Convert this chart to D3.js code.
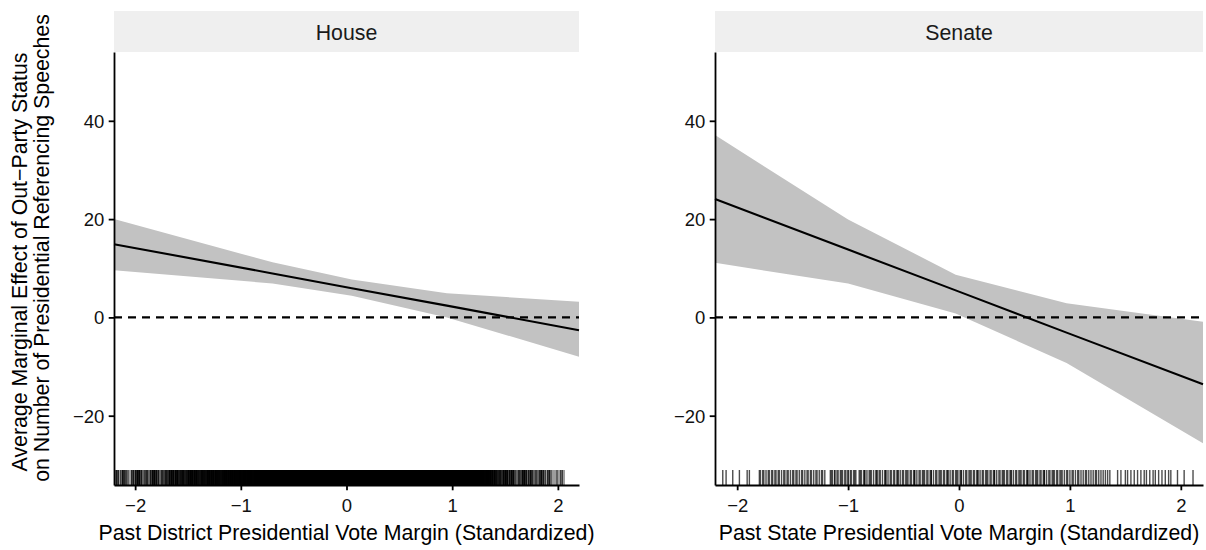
<!DOCTYPE html>
<html>
<head>
<meta charset="utf-8">
<script src="https://cdn.jsdelivr.net/npm/d3@7"></script>
<style>
  html, body { margin: 0; padding: 0; background: #fff; }
  svg { display: block; }
  text { font-family: "Liberation Sans", Arial, Helvetica, sans-serif; }
</style>
</head>
<body>
<svg id="chart" width="1206" height="550"></svg>
<script>
// ---------------- DATA ----------------
const panelNames = ["House", "Senate"];
const xTitles = [
  "Past District Presidential Vote Margin (Standardized)",
  "Past State Presidential Vote Margin (Standardized)"
];
const yTitleLines = [
  "Average Marginal Effect of Out\u2212Party Status",
  "on Number of Presidential Referencing Speeches"
];
const xTicks = [-2, -1, 0, 1, 2];
const yTicks = [-20, 0, 20, 40];
const xDomain = [-2.2, 2.2];
const yDomain = [-34.1, 54.0];

// House: marginal effect estimates
const houseX     = [-2.2, -0.7, 0.05, 0.95, 2.2];
const houseFit   = [14.9, 8.95, 5.95, 2.4, -2.6];
const houseUpper = [20.0, 11.2, 7.7, 4.9, 3.2];
const houseLower = [9.6, 6.9, 4.4, 0.0, -8.0];

// Senate: marginal effect estimates
const senateX     = [-2.2, -1.0, -0.03, 0.97, 2.2];
const senateFit   = [24.1, 13.8, 5.5, -3.1, -13.6];
const senateUpper = [37.1, 19.9, 8.7, 2.9, -0.9];
const senateLower = [11.1, 6.9, 0.8, -9.3, -25.6];

// House rug: observation counts in 0.02-wide bins starting at -2.2
const houseRugStart = -2.2;
const houseRugBin = 0.02;
const houseRugCounts = [
  2,3,1,2,4,3,2,1,3,2,4,5,3,2,3,4,2,3,5,4,3,2,4,3,5,4,
  5,6,4,7,5,6,8,5,6,7,9,6,8,7,6,9,8,7,10,8,9,7,10,9,8,10,11,9,10,12,10,11,
  12,14,13,15,12,16,14,13,17,15,14,18,16,15,19,17,16,18,20,17,19,21,18,20,
  22,19,21,23,20,22,24,21,23,25,22,24,26,23,25,27,24,26,28,25,27,26,28,27,
  29,26,28,30,27,29,28,30,27,29,31,28,30,29,27,30,28,29,27,28,26,29,27,28,
  26,27,25,28,26,27,24,26,25,27,23,25,24,26,22,24,23,25,21,23,22,24,20,22,
  21,23,19,21,20,22,18,20,19,21,17,19,18,20,16,18,17,15,16,14,15,13,14,12,
  8,6,7,5,6,4,5,6,3,4,5,3,2,4,3,5,4,2,3,4,2,3,2,4,3,2,1,3,2,1,1,2,1,2,1
];

// Senate rug: individual observations
const senateRug = [
  -2.13,-2.10,-2.04,-1.98,-1.91,-1.89,
  -1.80,-1.79,-1.77,-1.76,-1.74,-1.72,-1.71,
  -1.69,-1.68,-1.66,-1.65,-1.63,-1.62,-1.60,-1.58,-1.57,-1.55,-1.54,-1.52,-1.50,-1.49,
  -1.47,-1.46,-1.44,-1.42,-1.41,-1.39,-1.37,-1.36,-1.34,-1.33,-1.31,-1.29,-1.28,-1.26,
  -1.24,-1.23,-1.21,
  -1.16,-1.15,-1.14,-1.12,-1.12,-1.10,-1.09,-1.07,-1.06,-1.05,-1.03,-1.02,-1.00,-1.00,
  -0.98,-0.97,-0.95,-0.94,-0.93,
  -0.90,-0.89,-0.88,-0.86,-0.85,-0.85,-0.83,-0.81,-0.80,-0.79,-0.77,-0.75,-0.74,-0.74,
  -0.72,-0.71,-0.69,-0.67,-0.66,-0.66,-0.64,-0.62,-0.61,-0.59,-0.58,-0.56,-0.55,-0.55,
  -0.53,-0.51,-0.50,-0.48,-0.47,-0.46,-0.44,-0.43,-0.41,-0.40,-0.40,-0.38,-0.36,-0.35,
  -0.33,-0.32,-0.31,-0.29,-0.28,-0.26,-0.25,-0.25,-0.23,-0.21,-0.20,-0.18,-0.17,-0.16,
  -0.14,-0.13,-0.11,-0.10,-0.10,-0.08,-0.06,-0.05,-0.03,-0.02,-0.01,0.01,0.02,0.02,
  0.04,0.06,0.07,0.09,0.10,0.11,0.13,0.14,0.16,0.17,0.17,0.19,0.21,0.22,0.24,0.25,
  0.26,0.28,0.29,0.31,0.32,0.32,0.34,0.36,0.37,0.39,0.40,0.41,0.43,0.44,0.46,0.47,
  0.47,0.49,0.51,0.52,0.54,0.55,0.56,0.58,0.59,0.61,0.62,0.62,0.64,0.66,0.67,0.69,
  0.70,0.71,0.73,0.74,0.76,0.77,0.77,0.79,0.81,0.82,0.84,0.85,0.86,0.88,0.89,0.91,
  0.92,0.93,
  0.95,0.97,0.98,1.00,1.02,1.03,1.05,1.07,1.08,1.10,1.12,1.14,1.15,1.17,1.19,1.21,
  1.23,1.24,1.26,1.28,1.30,1.32,1.34,1.36,
  1.43,1.46,1.50,1.52,1.55,1.58,1.61,1.64,1.67,1.69,1.72,1.75,1.77,1.80,1.83,1.86,
  1.89,1.91,1.97,2.03,2.11
];

// ---------------- LAYOUT ----------------
const W = 1206, H = 550;
const panelTop = 52, panelBottom = 485, stripTop = 11;
const panelX = [[114, 579], [715, 1203]];
const tickLen = 5.3, tickPad = 4.3;
const rugLen = 15;
const tickFont = 18.5, titleFont = 21.3, stripFont = 21.3;
const fmt = d3.format("d");

const svg = d3.select("#chart");
svg.append("rect").attr("width", W).attr("height", H).attr("fill", "#fff");

const y = d3.scaleLinear().domain(yDomain).range([panelBottom, panelTop]);

const panelData = [
  { x: houseX, fit: houseFit, up: houseUpper, lo: houseLower },
  { x: senateX, fit: senateFit, up: senateUpper, lo: senateLower }
];

panelNames.forEach((name, p) => {
  const [L, R] = panelX[p];
  const x = d3.scaleLinear().domain(xDomain).range([L, R]);
  const g = svg.append("g");
  const pd = panelData[p];
  const rows = pd.x.map((v, i) => ({ x: v, fit: pd.fit[i], up: pd.up[i], lo: pd.lo[i] }));

  // strip
  g.append("rect").attr("x", L).attr("y", stripTop)
    .attr("width", R - L).attr("height", panelTop - stripTop)
    .attr("fill", "#efefef");
  g.append("text").attr("x", (L + R) / 2).attr("y", 40)
    .attr("text-anchor", "middle").attr("font-size", stripFont)
    .attr("fill", "#1a1a1a").text(name);

  // confidence band
  g.append("path").datum(rows)
    .attr("d", d3.area().x(d => x(d.x)).y0(d => y(d.lo)).y1(d => y(d.up)))
    .attr("fill", "#c2c2c2");

  // zero reference line
  g.append("line").attr("x1", L).attr("x2", R)
    .attr("y1", y(0)).attr("y2", y(0))
    .attr("stroke", "#000").attr("stroke-width", 2.1)
    .attr("stroke-dasharray", "8,6");

  // fitted line
  g.append("path").datum(rows)
    .attr("d", d3.line().x(d => x(d.x)).y(d => y(d.fit)))
    .attr("fill", "none").attr("stroke", "#000").attr("stroke-width", 2.1);

  // rug
  const rugG = g.append("g");
  if (p === 0) {
    const bw = x(houseRugBin) - x(0);
    rugG.attr("shape-rendering", "crispEdges")
      .selectAll("rect").data(houseRugCounts.map((c, i) => ({ v: houseRugStart + i * houseRugBin, c })))
      .join("rect")
      .attr("x", d => x(d.v)).attr("width", bw + 0.6)
      .attr("y", panelBottom - rugLen).attr("height", rugLen)
      .attr("fill", "#000")
      .attr("fill-opacity", d => 1 - Math.pow(0.62, d.c));
  } else {
    rugG.selectAll("line").data(senateRug).join("line")
      .attr("x1", d => x(d)).attr("x2", d => x(d))
      .attr("y1", panelBottom).attr("y2", panelBottom - rugLen)
      .attr("stroke", "#000").attr("stroke-width", 1.4)
      .attr("stroke-opacity", 0.7);
  }

  // axes
  const xAxis = g.append("g").attr("transform", `translate(0,${panelBottom})`)
    .call(d3.axisBottom(x).tickValues(xTicks).tickFormat(fmt).tickSize(tickLen).tickSizeOuter(0).tickPadding(tickPad));
  const yAxis = g.append("g").attr("transform", `translate(${L},0)`)
    .call(d3.axisLeft(y).tickValues(yTicks).tickFormat(fmt).tickSize(tickLen).tickSizeOuter(0).tickPadding(tickPad));
  [xAxis, yAxis].forEach(a => {
    a.select(".domain").attr("stroke", "#000").attr("stroke-width", 1.8);
    a.selectAll(".tick line").attr("stroke", "#000").attr("stroke-width", 1.8);
    a.selectAll(".tick text").attr("font-size", tickFont).attr("fill", "#111")
      .attr("font-family", "Liberation Sans, Arial, sans-serif");
  });
  xAxis.selectAll(".tick text").attr("dy", null).attr("y", 27);
  yAxis.selectAll(".tick text").attr("dy", "0.35em");

  // x title
  g.append("text").attr("x", (L + R) / 2).attr("y", 540)
    .attr("text-anchor", "middle").attr("font-size", titleFont)
    .attr("fill", "#000").text(xTitles[p]);
});

// y title (two lines)
const yTitle = svg.append("text")
  .attr("transform", "rotate(-90)")
  .attr("text-anchor", "middle").attr("font-size", titleFont).attr("fill", "#000");
yTitle.append("tspan").attr("x", -262).attr("y", 27).text(yTitleLines[0]);
yTitle.append("tspan").attr("x", -248).attr("y", 48.7).text(yTitleLines[1]);
</script>
</body>
</html>
